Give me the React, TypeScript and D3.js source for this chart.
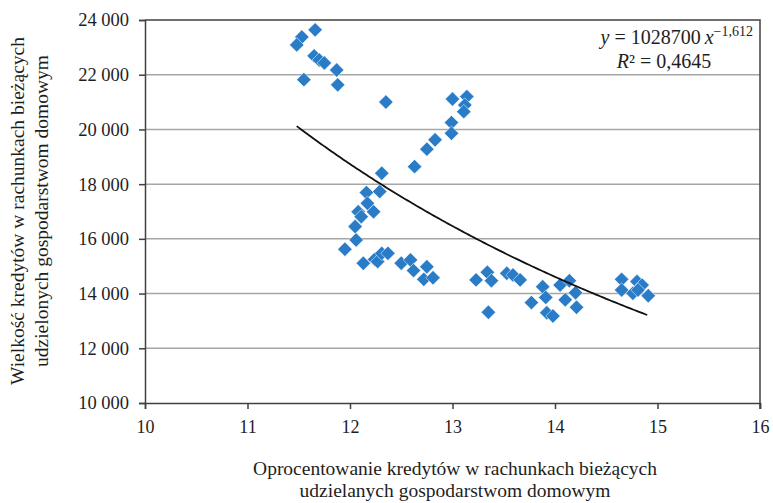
import { useEffect, useRef } from "react";
import * as d3 from "d3";

// interest rate (%) and loan volume (mln zł)
const rate = [
  11.53, 11.48, 11.66, 11.65, 11.7, 11.75, 11.87, 11.55, 11.88, 12.35,
  13.0, 13.14, 13.12, 13.11, 12.99, 12.99, 12.83, 12.75, 12.63,
  12.31, 12.16, 12.29, 12.17, 12.23, 12.08, 12.11, 12.05, 12.06, 11.95,
  12.13, 12.24, 12.27, 12.31, 12.37, 12.5, 12.59, 12.62, 12.75, 12.72, 12.81,
  13.23, 13.34, 13.38, 13.35,
  13.53, 13.59, 13.66, 13.77, 13.88, 13.91, 13.92, 13.98, 14.05, 14.14, 14.2, 14.1, 14.21,
  14.65, 14.65, 14.76, 14.8, 14.85, 14.81, 14.91,
];
const volume = [
  23380, 23090, 23640, 22690, 22540, 22430, 22170, 21820, 21630, 21000,
  21110, 21200, 20890, 20650, 20250, 19860, 19620, 19280, 18640,
  18400, 17690, 17730, 17300, 16990, 16990, 16810, 16450, 15960, 15620,
  15110, 15250, 15170, 15470, 15470, 15110, 15230, 14840, 14980, 14520, 14580,
  14500, 14780, 14470, 13320,
  14740, 14680, 14500, 13670, 14250, 13860, 13300, 13180, 14310, 14470, 14030, 13770, 13500,
  14520, 14130, 14010, 14440, 14310, 14130, 13920,
];

const xTicks = [10, 11, 12, 13, 14, 15, 16];
const yTicks = [10000, 12000, 14000, 16000, 18000, 20000, 22000, 24000];

const fitA = 1028700;
const fitB = -1.612;

const xTitle = ["Oprocentowanie kredytów w rachunkach bieżących", "udzielanych gospodarstwom domowym"];
const yTitle = ["Wielkość kredytów w rachunkach bieżących", "udzielonych gospodarstwom domowym"];

const fmt = (v: number) => d3.format(",")(v).replace(",", " ");

export default function App() {
  const ref = useRef<SVGSVGElement>(null);

  useEffect(() => {
    if (!ref.current) return;
    const svg = d3.select(ref.current);
    svg.selectAll("*").remove();
    const w = 773;
    const h = 503;
    const m = { t: 20, r: 13, b: 100, l: 145 };
    const font = "'Liberation Serif', 'Times New Roman', serif";
    const axisColor = "#404040";
    const ink = "#1e1e1e";

    const x = d3.scaleLinear().domain([10, 16]).range([m.l, w - m.r]);
    const y = d3.scaleLinear().domain([10000, 24000]).range([h - m.b, m.t]);

    // grid
    svg.append("g")
      .selectAll("line")
      .data(yTicks.slice(1, -1))
      .join("line")
      .attr("x1", m.l).attr("x2", w - m.r)
      .attr("y1", (d) => y(d)).attr("y2", (d) => y(d))
      .attr("stroke", "#a6a6a6").attr("stroke-width", 1.5);

    // frame top + right
    svg.append("path")
      .attr("d", `M${m.l},${y(24000)}H${x(16)}V${y(10000) + 6}`)
      .attr("fill", "none").attr("stroke", axisColor).attr("stroke-width", 1.5);

    // axes
    svg.append("g")
      .attr("transform", `translate(0,${y(10000)})`)
      .call(d3.axisBottom(x).tickValues(xTicks).tickSize(6).tickFormat((d) => String(d)))
      .call((g) => g.selectAll("line").attr("stroke", axisColor).attr("stroke-width", 1.5))
      .call((g) => g.select(".domain").attr("stroke", axisColor).attr("stroke-width", 1.5))
      .call((g) => g.selectAll("text").attr("font-family", font).attr("font-size", 18).attr("fill", ink).attr("y", 12).attr("dy", "1em"));

    svg.append("g")
      .attr("transform", `translate(${m.l},0)`)
      .call(d3.axisLeft(y).tickValues(yTicks).tickSize(6).tickFormat((d) => fmt(d as number)))
      .call((g) => g.selectAll("line").attr("stroke", axisColor).attr("stroke-width", 1.5))
      .call((g) => g.select(".domain").attr("stroke", axisColor).attr("stroke-width", 1.5))
      .call((g) => g.selectAll("text").attr("font-family", font).attr("font-size", 18.5).attr("fill", ink).attr("x", -16));

    // points
    const pts = rate.map((r, i) => ({ r, v: volume[i] }));
    svg.append("g")
      .selectAll("path")
      .data(pts)
      .join("path")
      .attr("transform", (d) => `translate(${x(d.r)},${y(d.v)}) rotate(45)`)
      .attr("d", d3.symbol(d3.symbolSquare, 104)() as string)
      .attr("fill", "#2a7cc7")
      .attr("stroke", "#fff").attr("stroke-width", 0.5);

    // power trend line
    const [lo, hi] = d3.extent(rate) as [number, number];
    const fit = d3.range(lo, hi + 0.001, 0.02).map((r) => ({ r, v: fitA * Math.pow(r, fitB) }));
    const line = d3.line<{ r: number; v: number }>().x((d) => x(d.r)).y((d) => y(d.v));
    svg.append("path")
      .datum(fit)
      .attr("fill", "none")
      .attr("stroke", "#111")
      .attr("stroke-width", 1.8)
      .attr("d", line as any);

    // equation
    const eq = svg.append("text")
      .attr("x", 753).attr("y", 44)
      .attr("text-anchor", "end")
      .attr("font-family", font).attr("font-size", 20).attr("fill", ink);
    eq.append("tspan").attr("font-style", "italic").text("y");
    eq.append("tspan").text(" = 1028700\u2009");
    eq.append("tspan").attr("font-style", "italic").text("x");
    eq.append("tspan").attr("font-size", 14).attr("dy", -8).text("\u22121,612");
    const r2 = svg.append("text")
      .attr("x", 664).attr("y", 68)
      .attr("text-anchor", "middle")
      .attr("font-family", font).attr("font-size", 20).attr("fill", ink);
    r2.append("tspan").attr("font-style", "italic").text("R");
    r2.append("tspan").text("\u00b2 = 0,4645");

    // titles
    svg.append("text")
      .attr("text-anchor", "middle")
      .attr("font-family", font).attr("font-size", 19.5).attr("fill", ink)
      .selectAll("tspan")
      .data(xTitle)
      .join("tspan")
      .attr("x", 455).attr("y", (_, i) => 475 + i * 22)
      .text((d) => d);

    svg.append("text")
      .attr("transform", "translate(0,211) rotate(-90)")
      .attr("text-anchor", "middle")
      .attr("font-family", font).attr("font-size", 19.5).attr("fill", ink)
      .selectAll("tspan")
      .data(yTitle)
      .join("tspan")
      .attr("x", 0).attr("y", (_, i) => 24 + i * 24)
      .text((d) => d);
  }, []);

  return (
    <div style={{ position: "absolute", left: 0, top: 0 }}>
      <svg ref={ref} width={773} height={503} style={{ display: "block", background: "#fff" }} />
    </div>
  );
}
